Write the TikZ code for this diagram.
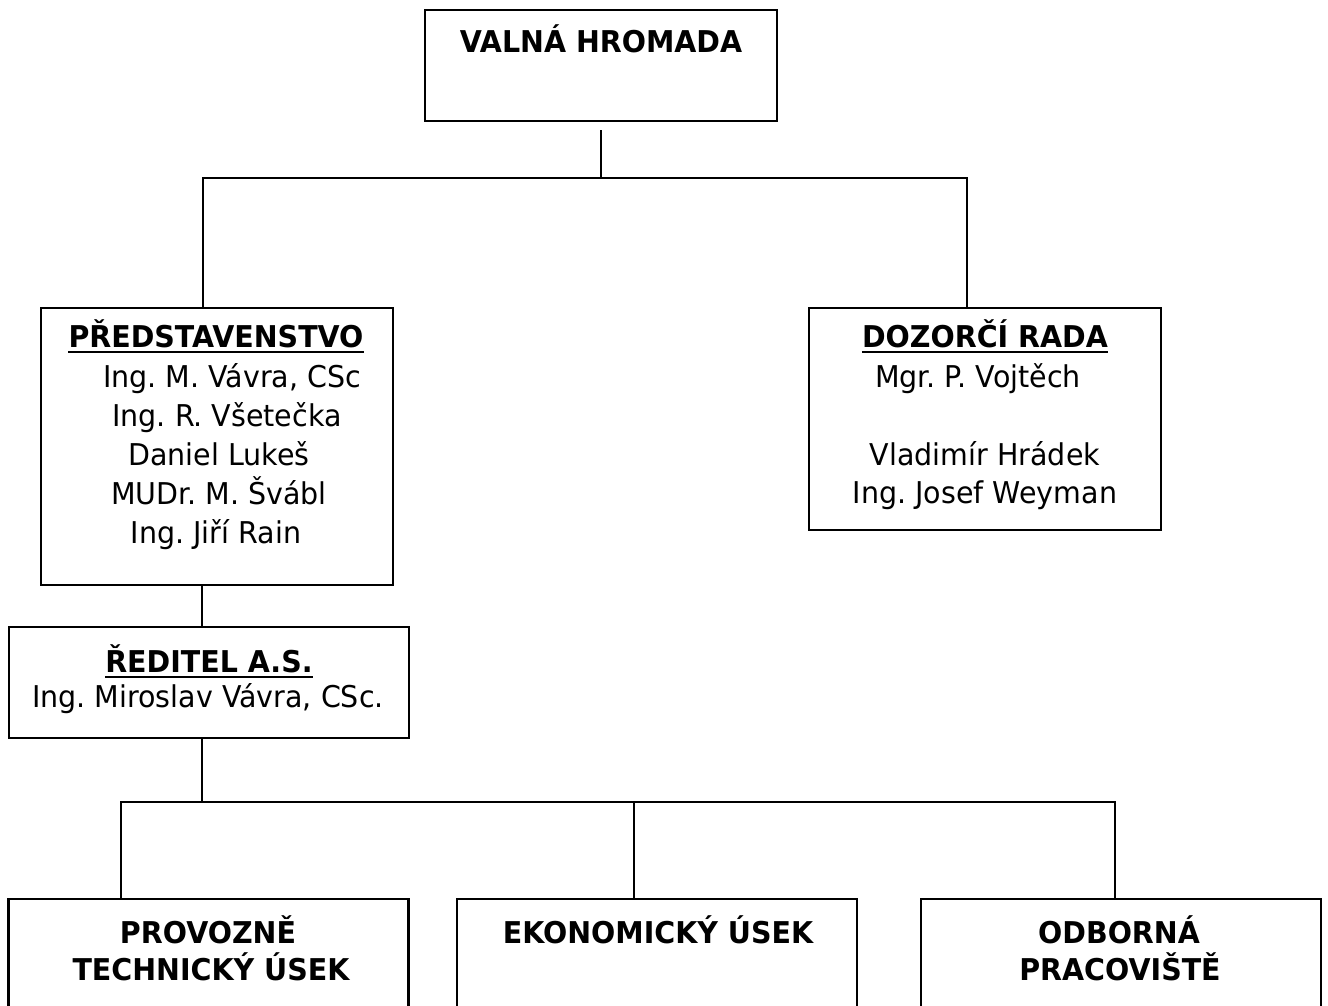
\documentclass[tikz,border=0pt]{standalone}
\usepackage{fontspec}
\setmainfont{DejaVu Sans}[FakeStretch=0.95]
\frenchspacing
\begin{document}
\begin{tikzpicture}[x=1pt,y=-1pt,
  box/.style={draw=black,line width=2.5pt,minimum width=#1,inner sep=0pt,fill=none},
  conn/.style={draw=black,line width=2.5pt,line join=miter},
  ttl/.style={anchor=base,inner sep=0pt,font=\fontsize{30}{36}\selectfont\bfseries},
  txt/.style={anchor=base,inner sep=0pt,font=\fontsize{30}{36}\selectfont},
  uline/.style={draw=black,line width=2.2pt}]
\clip (0,0) rectangle (1328,1005);
\fill[white] (0,0) rectangle (1328,1005);
% boxes
\node[box=352pt,minimum height=111pt] (vh) at (601,65.5) {};
\node[box=352pt,minimum height=277pt] (pr) at (217,446.5) {};
\node[box=352pt,minimum height=222pt] (dr) at (985,419) {};
\node[box=400pt,minimum height=111pt] (red) at (209,682.5) {};
\node[box=400pt,minimum height=131pt] (pt) at (208.5,964.5) {};
\node[box=400pt,minimum height=131pt] (ek) at (657,964.5) {};
\node[box=400pt,minimum height=131pt] (od) at (1121,964.5) {};
% texts
\node[ttl] (vht) at (601,52) {VALNÁ HROMADA};
\node[ttl] (prt) at (216,347) {PŘEDSTAVENSTVO};
\node[txt] (pr1) at (232,387) {Ing. M. Vávra, CSc};
\node[txt] (pr2) at (227,426) {Ing. R. Všetečka};
\node[txt] (pr3) at (219,465) {Daniel Lukeš};
\node[txt] (pr4) at (219,504) {MUDr. M. Švábl};
\node[txt] (pr5) at (216,543) {Ing. Jiří Rain};
\node[ttl] (drt) at (985,347) {DOZORČÍ RADA};
\node[txt] (dr1) at (978,387) {Mgr. P. Vojtěch};
\node[txt] (dr2) at (985,465) {Vladimír Hrádek};
\node[txt] (dr3) at (985,503) {Ing. Josef Weyman};
\node[ttl] (redt) at (209,672) {ŘEDITEL A.S.};
\node[txt] (red1) at (208,707) {Ing. Miroslav Vávra, CSc.};
\node[ttl] (pt1) at (208,943) {PROVOZNĚ};
\node[ttl] (pt2) at (211,980) {TECHNICKÝ ÚSEK};
\node[ttl] (ekt) at (658,943) {EKONOMICKÝ ÚSEK};
\node[ttl] (od1) at (1119,943) {ODBORNÁ};
\node[ttl] (od2) at (1120,980) {PRACOVIŠTĚ};
% underlines
\draw[uline] ([yshift=-5pt]prt.base west) -- ([yshift=-5pt]prt.base east);
\draw[uline] ([yshift=-5pt]drt.base west) -- ([yshift=-5pt]drt.base east);
\draw[uline] ([yshift=-5pt]redt.base west) -- ([yshift=-5pt]redt.base east);
% connectors
\coordinate (j0) at (601,130);
\coordinate (j1) at (601,178);
\coordinate (j1l) at (203,178);
\coordinate (j1r) at (967,178);
\draw[conn] (j0) -- (j1);
\draw[conn] (j1l |- pr.north) -- (j1l) -- (j1r) -- (j1r |- dr.north);
\coordinate (c2) at (202,0);
\draw[conn] (c2 |- pr.south) -- (c2 |- red.north);
\coordinate (j2) at (202,802);
\coordinate (j2l) at (121,802);
\coordinate (j2m) at (634,802);
\coordinate (j2r) at (1115,802);
\draw[conn] (c2 |- red.south) -- (j2);
\draw[conn] (j2l |- pt.north) -- (j2l) -- (j2r) -- (j2r |- od.north);
\draw[conn] (j2m) -- (j2m |- ek.north);
\end{tikzpicture}
\end{document}
